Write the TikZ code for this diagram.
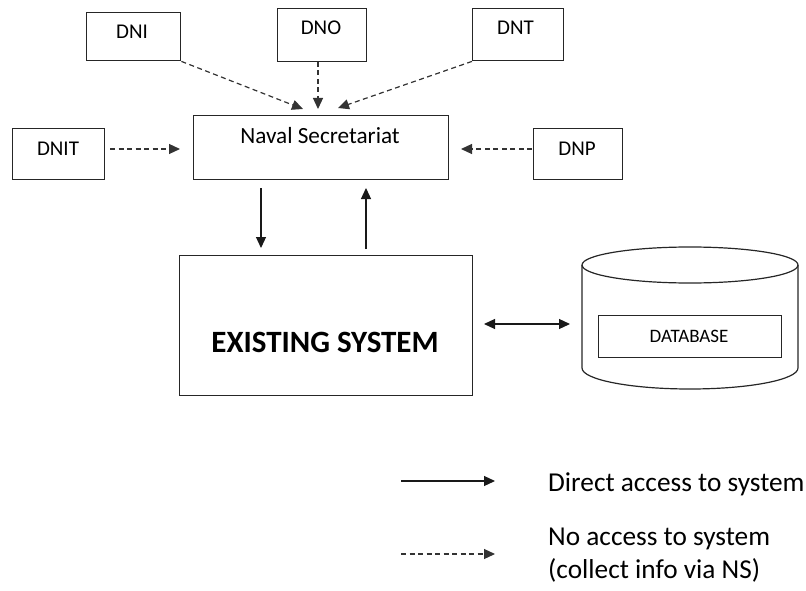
\documentclass[tikz,border=0pt]{standalone}
\usepackage{fontspec}
\setmainfont{Carlito}
\usetikzlibrary{arrows.meta}
\begin{document}
\begin{tikzpicture}[x=1pt,y=-1pt,
  box/.style={draw=black!85,line width=1.4pt,anchor=north west,inner sep=0pt},
  lbl/.style={anchor=base,inner sep=0pt,text=black},
  tip/.style={-{Triangle[length=11pt,width=10pt]}},
  solidarr/.style={tip,line width=1.2pt,black!90},
  dasharr/.style={tip,line width=1.2pt,black!80,dash pattern=on 5pt off 3.5pt}]
\useasboundingbox (0,0) rectangle (806,591);

% upper row of directorates
\node[box,minimum width=94pt,minimum height=48pt] (dni) at (86,12) {};
\node[box,minimum width=89pt,minimum height=53pt] (dno) at (277,8) {};
\node[box,minimum width=91pt,minimum height=52pt] (dnt) at (472,8) {};
\node[lbl,font=\fontsize{21}{24}\selectfont] (t-dni) at (132,38.3) {DNI};
\node[lbl,font=\fontsize{21}{24}\selectfont] (t-dno) at (321,35) {DNO};
\node[lbl,font=\fontsize{21}{24}\selectfont] (t-dnt) at (515.5,35) {DNT};

% side directorates and the secretariat
\node[box,minimum width=92pt,minimum height=51pt] (dnit) at (12,128) {};
\node[box,minimum width=89pt,minimum height=51pt] (dnp) at (533,128) {};
\node[box,minimum width=255pt,minimum height=64pt] (ns) at (193,115) {};
\node[lbl,font=\fontsize{21}{24}\selectfont] (t-dnit) at (58,155.7) {DNIT};
\node[lbl,font=\fontsize{21}{24}\selectfont] (t-dnp) at (577,155.7) {DNP};
\node[lbl,font=\fontsize{23.2}{27}\selectfont] (t-ns) at (320,144) {Naval Secretariat};

% existing system
\node[box,minimum width=293pt,minimum height=140pt] (es) at (179,255) {};
\node[lbl,font=\fontsize{31}{35}\selectfont\bfseries] (t-es) at (325,352) {EXISTING SYSTEM};

% database cylinder
\begin{scope}[line width=1.2pt,black!85]
  \draw (582,265) -- (582,368) arc[start angle=180,end angle=0,x radius=108,y radius=21] -- (798,265);
  \draw (690,265) ellipse[x radius=108,y radius=18];
\end{scope}
\node[box,minimum width=183pt,minimum height=42pt] (db) at (598,315) {};
\node[lbl,font=\fontsize{19}{22}\selectfont] (t-db) at (689,342) {DATABASE};

% end points of the connectors
\coordinate (p-dni) at (303,109);
\coordinate (p-dno0) at (318,62);
\coordinate (p-dno) at (318,109);
\coordinate (p-dnt) at (338,108);
\coordinate (p-dnit0) at (110,149);
\coordinate (p-dnit) at (180,149);
\coordinate (p-dnp0) at (532,149);
\coordinate (p-dnp) at (461,149);
\coordinate (d0) at (261,188);
\coordinate (d1) at (261,248);
\coordinate (u0) at (366,249);
\coordinate (u1) at (366,188);
\coordinate (b0) at (484,324);
\coordinate (b1) at (570,324);

\draw[dasharr] (dni.south east) -- (p-dni);
\draw[dasharr] (p-dno0) -- (p-dno);
\draw[dasharr] (dnt.south west) -- (p-dnt);
\draw[dasharr] (p-dnit0) -- (p-dnit);
\draw[dasharr] (p-dnp0) -- (p-dnp);
\draw[solidarr] (d0) -- (d1);
\draw[solidarr] (u0) -- (u1);
\draw[solidarr,{Triangle[length=11pt,width=10pt]}-{Triangle[length=11pt,width=10pt]}] (b0) -- (b1);

% legend
\coordinate (l1a) at (401,481);
\coordinate (l1b) at (495,481);
\coordinate (l2a) at (401,554);
\coordinate (l2b) at (495,554);
\draw[solidarr] (l1a) -- (l1b);
\draw[dasharr] (l2a) -- (l2b);
\node[lbl,anchor=base west,font=\fontsize{27.3}{31}\selectfont] (t-l1) at (548,491.7) {Direct access to system};
\node[lbl,anchor=base west,font=\fontsize{27.3}{31}\selectfont] (t-l2) at (548,545) {No access to system};
\node[lbl,anchor=base west,font=\fontsize{27.3}{31}\selectfont] (t-l3) at (548,578) {(collect info via NS)};
\end{tikzpicture}
\end{document}
